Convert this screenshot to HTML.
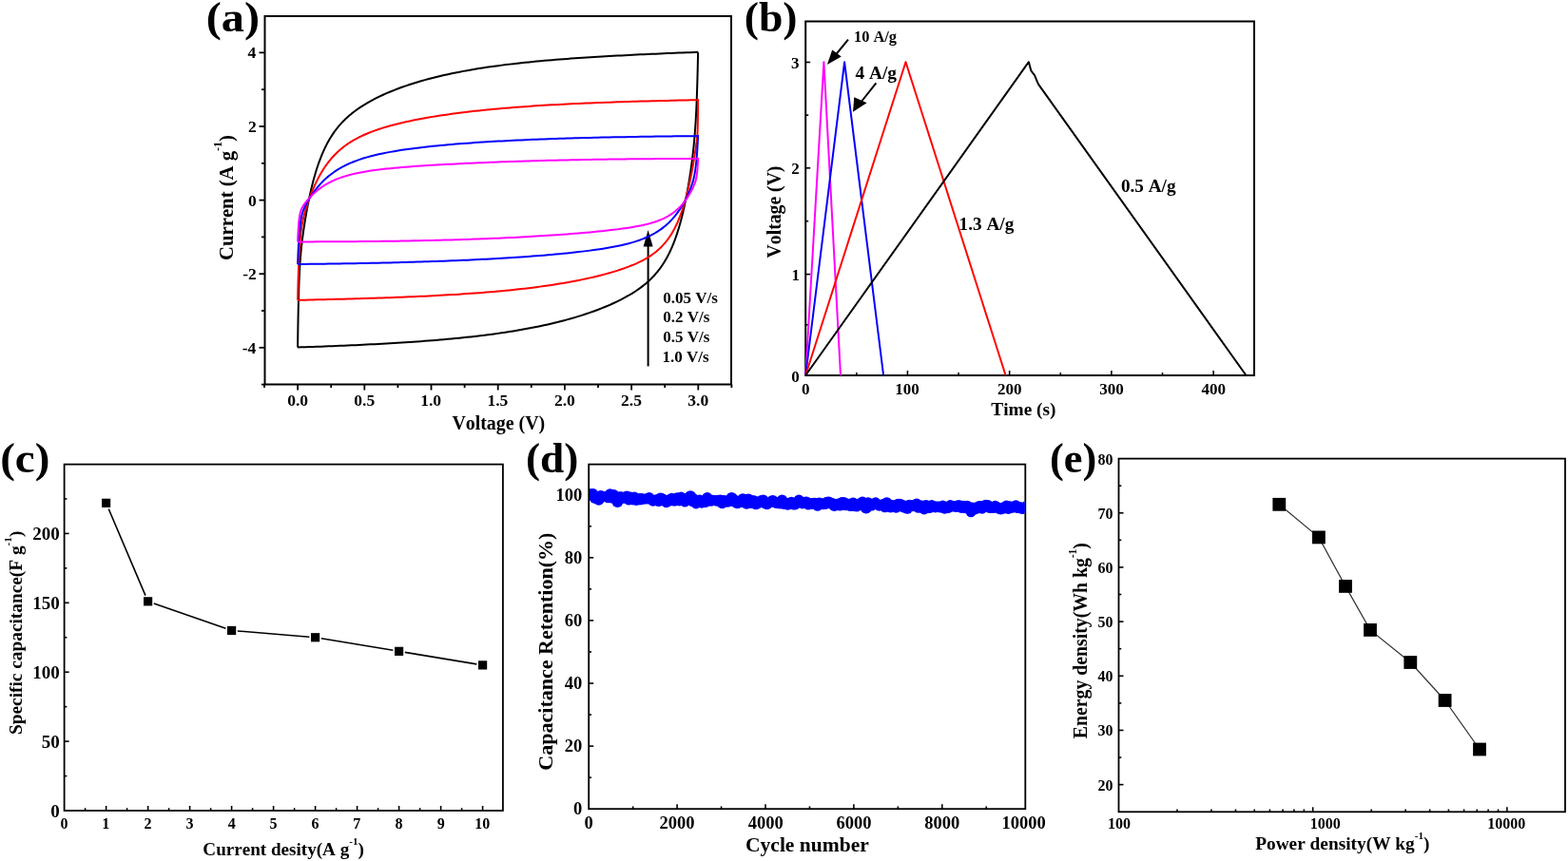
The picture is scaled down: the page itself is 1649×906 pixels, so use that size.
<!DOCTYPE html>
<html><head><meta charset="utf-8"><title>Figure</title>
<style>
html,body{margin:0;padding:0;background:#fff;}
body{width:1649px;height:906px;overflow:hidden;}
svg{display:block;}
text{font-family:'Liberation Serif', 'Times New Roman', serif;font-weight:bold;fill:#000;font-kerning:none;}
</style></head><body>
<svg width="1649" height="906" viewBox="0 0 1649 906">
<rect width="1649" height="906" fill="#fff"/>
<rect x="278.50" y="17.00" width="490.50" height="387.50" fill="none" stroke="#000" stroke-width="2"/>
<line x1="278.00" y1="404.50" x2="278.00" y2="408.00" stroke="#000" stroke-width="1.8"/>
<line x1="313.10" y1="404.50" x2="313.10" y2="410.50" stroke="#000" stroke-width="1.8"/>
<line x1="348.20" y1="404.50" x2="348.20" y2="408.00" stroke="#000" stroke-width="1.8"/>
<line x1="383.30" y1="404.50" x2="383.30" y2="410.50" stroke="#000" stroke-width="1.8"/>
<line x1="418.40" y1="404.50" x2="418.40" y2="408.00" stroke="#000" stroke-width="1.8"/>
<line x1="453.50" y1="404.50" x2="453.50" y2="410.50" stroke="#000" stroke-width="1.8"/>
<line x1="488.60" y1="404.50" x2="488.60" y2="408.00" stroke="#000" stroke-width="1.8"/>
<line x1="523.70" y1="404.50" x2="523.70" y2="410.50" stroke="#000" stroke-width="1.8"/>
<line x1="558.80" y1="404.50" x2="558.80" y2="408.00" stroke="#000" stroke-width="1.8"/>
<line x1="593.90" y1="404.50" x2="593.90" y2="410.50" stroke="#000" stroke-width="1.8"/>
<line x1="629.00" y1="404.50" x2="629.00" y2="408.00" stroke="#000" stroke-width="1.8"/>
<line x1="664.10" y1="404.50" x2="664.10" y2="410.50" stroke="#000" stroke-width="1.8"/>
<line x1="699.20" y1="404.50" x2="699.20" y2="408.00" stroke="#000" stroke-width="1.8"/>
<line x1="734.30" y1="404.50" x2="734.30" y2="410.50" stroke="#000" stroke-width="1.8"/>
<line x1="769.40" y1="404.50" x2="769.40" y2="408.00" stroke="#000" stroke-width="1.8"/>
<text x="302.16" y="427.30" font-size="17.5" >0.0</text>
<text x="372.35" y="427.30" font-size="17.5" >0.5</text>
<text x="442.20" y="427.30" font-size="17.5" >1.0</text>
<text x="512.38" y="427.30" font-size="17.5" >1.5</text>
<text x="582.93" y="427.30" font-size="17.5" >2.0</text>
<text x="653.12" y="427.30" font-size="17.5" >2.5</text>
<text x="723.37" y="427.30" font-size="17.5" >3.0</text>
<line x1="278.50" y1="404.60" x2="275.00" y2="404.60" stroke="#000" stroke-width="1.8"/>
<line x1="278.50" y1="365.80" x2="272.50" y2="365.80" stroke="#000" stroke-width="1.8"/>
<line x1="278.50" y1="327.00" x2="275.00" y2="327.00" stroke="#000" stroke-width="1.8"/>
<line x1="278.50" y1="288.20" x2="272.50" y2="288.20" stroke="#000" stroke-width="1.8"/>
<line x1="278.50" y1="249.40" x2="275.00" y2="249.40" stroke="#000" stroke-width="1.8"/>
<line x1="278.50" y1="210.60" x2="272.50" y2="210.60" stroke="#000" stroke-width="1.8"/>
<line x1="278.50" y1="171.80" x2="275.00" y2="171.80" stroke="#000" stroke-width="1.8"/>
<line x1="278.50" y1="133.00" x2="272.50" y2="133.00" stroke="#000" stroke-width="1.8"/>
<line x1="278.50" y1="94.20" x2="275.00" y2="94.20" stroke="#000" stroke-width="1.8"/>
<line x1="278.50" y1="55.40" x2="272.50" y2="55.40" stroke="#000" stroke-width="1.8"/>
<text x="260.57" y="61.40" font-size="17.5" >4</text>
<text x="261.00" y="139.00" font-size="17.5" >2</text>
<text x="260.92" y="216.60" font-size="17.5" >0</text>
<text x="255.17" y="294.20" font-size="17.5" >-2</text>
<text x="254.75" y="371.80" font-size="17.5" >-4</text>
<text transform="translate(475.60,452.00) scale(0.9959,1)" x="-0.22" y="0" font-size="20">Voltage (V)</text>
<text transform="translate(245.00,272.90) rotate(-90) scale(0.9956,1)" x="-1.02" y="0" font-size="20.8">Current (A g<tspan font-size="12.06" dy="-11.65">-1</tspan><tspan font-size="20.8" dy="11.65">)</tspan></text>
<text transform="translate(218.80,33.00) scale(1.0739,1)" x="-1.98" y="0" font-size="45">(a)</text>
<text x="697.25" y="318.60" font-size="17" >0.05 V/s</text>
<text x="697.25" y="339.40" font-size="17" >0.2 V/s</text>
<text x="697.25" y="360.40" font-size="17" >0.5 V/s</text>
<text x="696.54" y="380.60" font-size="17" >1.0 V/s</text>
<line x1="681.60" y1="385.40" x2="681.60" y2="256.00" stroke="#000" stroke-width="2"/>
<path d="M681.6,242 L676.6,259.5 L686.6,259.5 Z" fill="#000"/>
<path d="M313.10,365.50 L313.15,361.51 L313.20,357.69 L313.25,354.03 L313.30,350.52 L313.35,347.15 L313.40,343.93 L313.45,340.83 L313.50,337.86 L313.55,335.01 L313.60,332.28 L313.65,329.65 L313.70,327.13 L313.75,324.71 L313.80,322.38 L313.85,320.14 L313.90,317.99 L313.95,315.92 L314.00,313.92 L314.05,312.00 L314.10,310.15 L314.15,308.37 L314.20,306.66 L314.25,305.00 L314.30,303.40 L314.35,301.86 L314.40,300.38 L314.45,298.94 L314.50,297.55 L314.55,296.21 L314.60,294.91 L314.65,293.65 L314.70,292.44 L314.75,291.26 L314.80,290.12 L314.85,289.01 L314.90,287.94 L314.95,286.90 L315.00,285.89 L315.05,284.90 L315.10,283.95 L315.20,282.12 L315.40,278.72 L315.60,275.64 L315.80,272.83 L316.00,270.25 L316.21,267.86 L316.41,265.62 L316.61,263.52 L316.81,261.53 L317.01,259.64 L317.21,257.82 L317.41,256.08 L317.61,254.40 L317.81,252.77 L318.02,251.19 L318.22,249.65 L318.42,248.15 L318.62,246.68 L318.82,245.24 L319.02,243.82 L319.22,242.43 L319.42,241.06 L319.62,239.72 L319.83,238.39 L320.03,237.09 L320.23,235.80 L320.43,234.53 L320.63,233.27 L320.83,232.04 L321.03,230.81 L321.23,229.61 L321.43,228.41 L321.64,227.24 L321.84,226.07 L322.04,224.92 L322.24,223.78 L322.44,222.66 L322.64,221.55 L322.84,220.45 L323.04,219.37 L323.24,218.29 L323.45,217.23 L323.65,216.18 L323.85,215.14 L324.05,214.12 L324.25,213.10 L324.45,212.10 L324.65,211.11 L324.85,210.13 L325.06,209.16 L325.26,208.20 L325.46,207.25 L325.66,206.31 L325.86,205.38 L326.06,204.47 L326.26,203.56 L326.46,202.66 L326.66,201.77 L326.87,200.89 L327.07,200.02 L327.27,199.16 L327.47,198.31 L327.67,197.47 L327.87,196.64 L328.07,195.81 L328.27,195.00 L328.47,194.19 L328.68,193.40 L328.88,192.61 L329.08,191.83 L329.28,191.05 L329.48,190.29 L329.68,189.53 L329.88,188.78 L330.08,188.04 L330.28,187.31 L330.49,186.58 L330.69,185.87 L330.89,185.16 L331.09,184.45 L331.29,183.76 L331.49,183.07 L331.69,182.39 L331.89,181.71 L332.09,181.05 L332.30,180.39 L332.50,179.73 L332.70,179.08 L332.90,178.44 L333.10,177.81 L333.60,176.26 L334.27,174.24 L334.94,172.29 L335.61,170.41 L336.28,168.58 L336.95,166.81 L337.62,165.10 L338.29,163.44 L338.96,161.83 L339.63,160.27 L340.29,158.76 L340.96,157.30 L341.63,155.87 L342.30,154.49 L342.97,153.15 L343.64,151.85 L344.31,150.58 L344.98,149.35 L345.65,148.15 L346.32,146.99 L346.99,145.86 L347.66,144.75 L348.33,143.68 L349.00,142.63 L349.67,141.61 L350.34,140.62 L351.01,139.65 L351.68,138.70 L352.35,137.78 L353.02,136.88 L353.68,136.00 L354.35,135.14 L355.02,134.31 L355.69,133.49 L356.36,132.68 L357.03,131.90 L357.70,131.13 L358.37,130.38 L359.04,129.64 L359.71,128.92 L360.38,128.22 L361.05,127.53 L361.72,126.85 L362.39,126.18 L363.06,125.53 L363.73,124.89 L364.40,124.26 L365.07,123.64 L365.74,123.04 L366.41,122.44 L367.07,121.86 L367.74,121.28 L368.41,120.72 L369.08,120.16 L369.75,119.61 L370.42,119.08 L371.09,118.55 L371.76,118.02 L372.43,117.51 L373.10,117.00 L374.10,116.26 L378.14,113.42 L382.19,110.79 L386.23,108.35 L390.28,106.07 L394.32,103.93 L398.37,101.91 L402.41,100.01 L406.46,98.20 L410.50,96.48 L414.55,94.85 L418.59,93.29 L422.64,91.80 L426.68,90.38 L430.73,89.02 L434.77,87.71 L438.82,86.47 L442.86,85.27 L446.91,84.12 L450.95,83.02 L455.00,81.97 L459.04,80.96 L463.09,79.98 L467.13,79.05 L471.18,78.15 L475.22,77.29 L479.27,76.46 L483.31,75.66 L487.36,74.89 L491.40,74.16 L495.45,73.45 L499.49,72.76 L503.54,72.10 L507.58,71.47 L511.63,70.86 L515.67,70.27 L519.72,69.70 L523.76,69.15 L527.81,68.62 L531.85,68.11 L535.90,67.62 L539.94,67.15 L543.99,66.69 L548.03,66.24 L552.08,65.81 L556.12,65.40 L560.17,65.00 L564.21,64.61 L568.26,64.23 L572.30,63.87 L576.35,63.51 L580.39,63.17 L584.44,62.84 L588.48,62.51 L592.53,62.20 L596.57,61.89 L600.62,61.60 L604.66,61.31 L608.71,61.03 L612.75,60.76 L616.80,60.49 L620.84,60.23 L624.89,59.98 L628.93,59.73 L632.98,59.49 L637.02,59.26 L641.07,59.03 L645.11,58.81 L649.16,58.59 L653.20,58.38 L657.25,58.17 L661.29,57.96 L665.34,57.76 L669.38,57.56 L673.43,57.37 L677.47,57.18 L681.52,56.99 L685.56,56.81 L689.61,56.63 L693.65,56.46 L697.70,56.28 L701.74,56.11 L705.79,55.94 L709.83,55.78 L713.88,55.61 L717.92,55.45 L721.97,55.29 L726.01,55.14 L730.06,54.98 L734.10,54.83 L734.10,54.80 L734.05,57.33 L734.00,59.78 L733.95,62.17 L733.90,64.50 L733.85,66.76 L733.80,68.96 L733.75,71.11 L733.70,73.19 L733.65,75.23 L733.60,77.21 L733.55,79.14 L733.50,81.02 L733.45,82.85 L733.40,84.64 L733.35,86.38 L733.30,88.08 L733.25,89.74 L733.20,91.36 L733.15,92.93 L733.10,94.48 L733.05,95.98 L733.00,97.45 L732.95,98.88 L732.90,100.28 L732.85,101.65 L732.80,102.99 L732.75,104.30 L732.70,105.58 L732.65,106.83 L732.60,108.05 L732.55,109.25 L732.50,110.42 L732.45,111.57 L732.40,112.69 L732.35,113.79 L732.30,114.87 L732.25,115.93 L732.20,116.97 L732.15,117.98 L732.10,118.98 L732.00,120.91 L731.80,124.59 L731.60,128.02 L731.40,131.22 L731.20,134.22 L730.99,137.05 L730.79,139.72 L730.59,142.26 L730.39,144.67 L730.19,146.97 L729.99,149.18 L729.79,151.30 L729.59,153.34 L729.39,155.31 L729.18,157.22 L728.98,159.07 L728.78,160.87 L728.58,162.62 L728.38,164.32 L728.18,165.99 L727.98,167.62 L727.78,169.21 L727.58,170.77 L727.37,172.30 L727.17,173.81 L726.97,175.28 L726.77,176.74 L726.57,178.16 L726.37,179.57 L726.17,180.95 L725.97,182.31 L725.77,183.66 L725.56,184.98 L725.36,186.29 L725.16,187.57 L724.96,188.84 L724.76,190.10 L724.56,191.34 L724.36,192.56 L724.16,193.76 L723.96,194.95 L723.75,196.13 L723.55,197.29 L723.35,198.44 L723.15,199.57 L722.95,200.69 L722.75,201.80 L722.55,202.89 L722.35,203.97 L722.14,205.04 L721.94,206.10 L721.74,207.14 L721.54,208.17 L721.34,209.19 L721.14,210.20 L720.94,211.19 L720.74,212.18 L720.54,213.15 L720.33,214.11 L720.13,215.06 L719.93,216.00 L719.73,216.93 L719.53,217.85 L719.33,218.76 L719.13,219.66 L718.93,220.55 L718.73,221.43 L718.52,222.30 L718.32,223.16 L718.12,224.01 L717.92,224.85 L717.72,225.68 L717.52,226.50 L717.32,227.31 L717.12,228.12 L716.92,228.91 L716.71,229.70 L716.51,230.48 L716.31,231.25 L716.11,232.01 L715.91,232.76 L715.71,233.51 L715.51,234.24 L715.31,234.97 L715.11,235.69 L714.90,236.41 L714.70,237.11 L714.50,237.81 L714.30,238.50 L714.10,239.19 L713.60,240.86 L712.93,243.02 L712.26,245.12 L711.59,247.14 L710.92,249.09 L710.25,250.98 L709.58,252.80 L708.91,254.57 L708.24,256.28 L707.57,257.93 L706.91,259.53 L706.24,261.08 L705.57,262.58 L704.90,264.04 L704.23,265.45 L703.56,266.82 L702.89,268.15 L702.22,269.43 L701.55,270.68 L700.88,271.90 L700.21,273.08 L699.54,274.22 L698.87,275.34 L698.20,276.42 L697.53,277.48 L696.86,278.50 L696.19,279.50 L695.52,280.47 L694.85,281.42 L694.18,282.35 L693.52,283.25 L692.85,284.13 L692.18,284.98 L691.51,285.82 L690.84,286.64 L690.17,287.44 L689.50,288.22 L688.83,288.98 L688.16,289.72 L687.49,290.45 L686.82,291.17 L686.15,291.87 L685.48,292.55 L684.81,293.22 L684.14,293.88 L683.47,294.52 L682.80,295.15 L682.13,295.77 L681.46,296.38 L680.79,296.98 L680.13,297.56 L679.46,298.14 L678.79,298.70 L678.12,299.26 L677.45,299.80 L676.78,300.34 L676.11,300.87 L675.44,301.39 L674.77,301.90 L674.10,302.40 L673.10,303.14 L669.06,305.97 L665.01,308.57 L660.97,310.99 L656.92,313.24 L652.88,315.36 L648.83,317.36 L644.79,319.26 L640.74,321.06 L636.70,322.77 L632.65,324.41 L628.61,325.97 L624.56,327.47 L620.52,328.91 L616.47,330.28 L612.43,331.61 L608.38,332.87 L604.34,334.09 L600.29,335.27 L596.25,336.40 L592.20,337.48 L588.16,338.53 L584.11,339.53 L580.07,340.50 L576.02,341.43 L571.98,342.33 L567.93,343.19 L563.89,344.03 L559.84,344.83 L555.80,345.60 L551.75,346.35 L547.71,347.07 L543.66,347.76 L539.62,348.43 L535.57,349.08 L531.53,349.70 L527.48,350.30 L523.44,350.88 L519.39,351.44 L515.35,351.98 L511.30,352.50 L507.26,353.01 L503.21,353.49 L499.17,353.97 L495.12,354.42 L491.08,354.86 L487.03,355.29 L482.99,355.70 L478.94,356.10 L474.90,356.48 L470.85,356.85 L466.81,357.21 L462.76,357.56 L458.72,357.90 L454.67,358.23 L450.63,358.55 L446.58,358.86 L442.54,359.16 L438.49,359.45 L434.45,359.73 L430.40,360.00 L426.36,360.27 L422.31,360.53 L418.27,360.78 L414.22,361.02 L410.18,361.26 L406.13,361.49 L402.09,361.71 L398.04,361.93 L394.00,362.14 L389.95,362.35 L385.91,362.55 L381.86,362.75 L377.82,362.94 L373.77,363.13 L369.73,363.31 L365.68,363.49 L361.64,363.67 L357.59,363.84 L353.55,364.00 L349.50,364.17 L345.46,364.33 L341.41,364.48 L337.37,364.64 L333.32,364.79 L329.28,364.93 L325.23,365.08 L321.19,365.22 L317.14,365.36 L313.10,365.50" fill="none" stroke="#000" stroke-width="2.0" stroke-linejoin="miter" stroke-miterlimit="10"/>
<path d="M313.10,315.80 L313.15,313.39 L313.20,311.05 L313.25,308.79 L313.30,306.60 L313.35,304.48 L313.40,302.42 L313.45,300.43 L313.50,298.50 L313.55,296.63 L313.60,294.81 L313.65,293.06 L313.70,291.35 L313.75,289.70 L313.80,288.09 L313.85,286.54 L313.90,285.03 L313.95,283.57 L314.00,282.15 L314.05,280.77 L314.10,279.43 L314.15,278.13 L314.20,276.87 L314.25,275.65 L314.30,274.46 L314.35,273.30 L314.40,272.18 L314.45,271.09 L314.50,270.03 L314.55,269.00 L314.60,268.00 L314.65,267.02 L314.70,266.08 L314.75,265.16 L314.80,264.26 L314.85,263.39 L314.90,262.54 L314.95,261.71 L315.00,260.91 L315.05,260.12 L315.10,259.36 L315.20,257.89 L315.40,255.15 L315.60,252.67 L315.80,250.42 L316.00,248.36 L316.21,246.47 L316.41,244.73 L316.61,243.12 L316.81,241.63 L317.01,240.23 L317.21,238.93 L317.41,237.70 L317.61,236.54 L317.81,235.43 L318.02,234.38 L318.22,233.38 L318.42,232.41 L318.62,231.48 L318.82,230.59 L319.02,229.72 L319.22,228.88 L319.42,228.06 L319.62,227.26 L319.83,226.48 L320.03,225.72 L320.23,224.97 L320.43,224.24 L320.63,223.52 L320.83,222.81 L321.03,222.12 L321.23,221.43 L321.43,220.75 L321.64,220.08 L321.84,219.42 L322.04,218.77 L322.24,218.13 L322.44,217.49 L322.64,216.86 L322.84,216.23 L323.04,215.62 L323.24,215.01 L323.45,214.40 L323.65,213.80 L323.85,213.21 L324.05,212.62 L324.25,212.03 L324.45,211.46 L324.65,210.88 L324.85,210.31 L325.06,209.75 L325.26,209.19 L325.46,208.64 L325.66,208.09 L325.86,207.54 L326.06,207.00 L326.26,206.47 L326.46,205.94 L326.66,205.41 L326.87,204.89 L327.07,204.37 L327.27,203.86 L327.47,203.35 L327.67,202.84 L327.87,202.34 L328.07,201.84 L328.27,201.35 L328.47,200.86 L328.68,200.37 L328.88,199.89 L329.08,199.41 L329.28,198.93 L329.48,198.46 L329.68,198.00 L329.88,197.53 L330.08,197.07 L330.28,196.62 L330.49,196.16 L330.69,195.71 L330.89,195.27 L331.09,194.83 L331.29,194.39 L331.49,193.95 L331.69,193.52 L331.89,193.09 L332.09,192.67 L332.30,192.25 L332.50,191.83 L332.70,191.41 L332.90,191.00 L333.10,190.59 L333.60,189.59 L334.27,188.27 L334.94,186.99 L335.61,185.74 L336.28,184.52 L336.95,183.34 L337.62,182.18 L338.29,181.05 L338.96,179.95 L339.63,178.87 L340.29,177.82 L340.96,176.80 L341.63,175.80 L342.30,174.82 L342.97,173.87 L343.64,172.94 L344.31,172.03 L344.98,171.14 L345.65,170.27 L346.32,169.42 L346.99,168.60 L347.66,167.79 L348.33,167.00 L349.00,166.22 L349.67,165.47 L350.34,164.73 L351.01,164.00 L351.68,163.30 L352.35,162.61 L353.02,161.93 L353.68,161.27 L354.35,160.62 L355.02,159.98 L355.69,159.36 L356.36,158.75 L357.03,158.16 L357.70,157.57 L358.37,157.00 L359.04,156.44 L359.71,155.89 L360.38,155.35 L361.05,154.82 L361.72,154.30 L362.39,153.80 L363.06,153.30 L363.73,152.81 L364.40,152.33 L365.07,151.86 L365.74,151.40 L366.41,150.95 L367.07,150.50 L367.74,150.06 L368.41,149.63 L369.08,149.21 L369.75,148.80 L370.42,148.39 L371.09,147.99 L371.76,147.60 L372.43,147.21 L373.10,146.83 L374.10,146.28 L378.14,144.16 L382.19,142.24 L386.23,140.47 L390.28,138.85 L394.32,137.35 L398.37,135.96 L402.41,134.66 L406.46,133.44 L410.50,132.29 L414.55,131.21 L418.59,130.19 L422.64,129.22 L426.68,128.29 L430.73,127.41 L434.77,126.57 L438.82,125.77 L442.86,125.00 L446.91,124.26 L450.95,123.56 L455.00,122.88 L459.04,122.22 L463.09,121.60 L467.13,120.99 L471.18,120.41 L475.22,119.84 L479.27,119.30 L483.31,118.78 L487.36,118.27 L491.40,117.79 L495.45,117.32 L499.49,116.86 L503.54,116.42 L507.58,116.00 L511.63,115.59 L515.67,115.20 L519.72,114.81 L523.76,114.44 L527.81,114.09 L531.85,113.74 L535.90,113.41 L539.94,113.08 L543.99,112.77 L548.03,112.47 L552.08,112.18 L556.12,111.89 L560.17,111.62 L564.21,111.35 L568.26,111.10 L572.30,110.85 L576.35,110.61 L580.39,110.37 L584.44,110.15 L588.48,109.93 L592.53,109.72 L596.57,109.51 L600.62,109.31 L604.66,109.12 L608.71,108.93 L612.75,108.75 L616.80,108.58 L620.84,108.41 L624.89,108.24 L628.93,108.08 L632.98,107.93 L637.02,107.78 L641.07,107.63 L645.11,107.49 L649.16,107.35 L653.20,107.22 L657.25,107.09 L661.29,106.96 L665.34,106.84 L669.38,106.72 L673.43,106.61 L677.47,106.49 L681.52,106.38 L685.56,106.28 L689.61,106.17 L693.65,106.07 L697.70,105.98 L701.74,105.88 L705.79,105.79 L709.83,105.70 L713.88,105.61 L717.92,105.53 L721.97,105.44 L726.01,105.36 L730.06,105.28 L734.10,105.20 L734.10,105.20 L734.05,111.87 L734.00,117.35 L733.95,121.84 L733.90,125.55 L733.85,128.62 L733.80,131.18 L733.75,133.32 L733.70,135.12 L733.65,136.65 L733.60,137.96 L733.55,139.09 L733.50,140.08 L733.45,140.95 L733.40,141.73 L733.35,142.43 L733.30,143.06 L733.25,143.65 L733.20,144.19 L733.15,144.71 L733.10,145.19 L733.05,145.65 L733.00,146.10 L732.95,146.52 L732.90,146.94 L732.85,147.35 L732.80,147.74 L732.75,148.14 L732.70,148.52 L732.65,148.90 L732.60,149.28 L732.55,149.65 L732.50,150.02 L732.45,150.38 L732.40,150.75 L732.35,151.11 L732.30,151.47 L732.25,151.83 L732.20,152.18 L732.15,152.54 L732.10,152.89 L732.00,153.59 L731.80,154.99 L731.60,156.37 L731.40,157.73 L731.20,159.07 L730.99,160.40 L730.79,161.71 L730.59,163.01 L730.39,164.28 L730.19,165.55 L729.99,166.80 L729.79,168.03 L729.59,169.25 L729.39,170.45 L729.18,171.64 L728.98,172.81 L728.78,173.97 L728.58,175.12 L728.38,176.25 L728.18,177.36 L727.98,178.47 L727.78,179.56 L727.58,180.64 L727.37,181.70 L727.17,182.75 L726.97,183.79 L726.77,184.82 L726.57,185.83 L726.37,186.84 L726.17,187.83 L725.97,188.81 L725.77,189.77 L725.56,190.73 L725.36,191.67 L725.16,192.60 L724.96,193.53 L724.76,194.44 L724.56,195.34 L724.36,196.22 L724.16,197.10 L723.96,197.97 L723.75,198.83 L723.55,199.68 L723.35,200.52 L723.15,201.34 L722.95,202.16 L722.75,202.97 L722.55,203.77 L722.35,204.56 L722.14,205.34 L721.94,206.11 L721.74,206.88 L721.54,207.63 L721.34,208.37 L721.14,209.11 L720.94,209.84 L720.74,210.56 L720.54,211.27 L720.33,211.97 L720.13,212.67 L719.93,213.35 L719.73,214.03 L719.53,214.71 L719.33,215.37 L719.13,216.03 L718.93,216.67 L718.73,217.32 L718.52,217.95 L718.32,218.58 L718.12,219.20 L717.92,219.81 L717.72,220.42 L717.52,221.01 L717.32,221.61 L717.12,222.19 L716.92,222.77 L716.71,223.34 L716.51,223.91 L716.31,224.47 L716.11,225.03 L715.91,225.57 L715.71,226.12 L715.51,226.65 L715.31,227.18 L715.11,227.71 L714.90,228.22 L714.70,228.74 L714.50,229.24 L714.30,229.74 L714.10,230.24 L713.60,231.45 L712.93,233.02 L712.26,234.54 L711.59,236.00 L710.92,237.41 L710.25,238.77 L709.58,240.09 L708.91,241.36 L708.24,242.59 L707.57,243.78 L706.91,244.93 L706.24,246.04 L705.57,247.11 L704.90,248.16 L704.23,249.16 L703.56,250.14 L702.89,251.09 L702.22,252.00 L701.55,252.89 L700.88,253.75 L700.21,254.59 L699.54,255.40 L698.87,256.19 L698.20,256.96 L697.53,257.70 L696.86,258.42 L696.19,259.13 L695.52,259.81 L694.85,260.47 L694.18,261.12 L693.52,261.75 L692.85,262.37 L692.18,262.96 L691.51,263.55 L690.84,264.12 L690.17,264.67 L689.50,265.21 L688.83,265.74 L688.16,266.26 L687.49,266.76 L686.82,267.25 L686.15,267.74 L685.48,268.21 L684.81,268.67 L684.14,269.12 L683.47,269.56 L682.80,269.99 L682.13,270.42 L681.46,270.83 L680.79,271.24 L680.13,271.64 L679.46,272.03 L678.79,272.42 L678.12,272.79 L677.45,273.16 L676.78,273.53 L676.11,273.88 L675.44,274.24 L674.77,274.58 L674.10,274.92 L673.10,275.42 L669.06,277.32 L665.01,279.05 L660.97,280.66 L656.92,282.15 L652.88,283.55 L648.83,284.86 L644.79,286.10 L640.74,287.28 L636.70,288.40 L632.65,289.47 L628.61,290.49 L624.56,291.46 L620.52,292.39 L616.47,293.28 L612.43,294.14 L608.38,294.96 L604.34,295.75 L600.29,296.51 L596.25,297.24 L592.20,297.94 L588.16,298.61 L584.11,299.26 L580.07,299.89 L576.02,300.49 L571.98,301.06 L567.93,301.62 L563.89,302.16 L559.84,302.67 L555.80,303.17 L551.75,303.65 L547.71,304.11 L543.66,304.56 L539.62,304.99 L535.57,305.40 L531.53,305.80 L527.48,306.18 L523.44,306.55 L519.39,306.91 L515.35,307.26 L511.30,307.59 L507.26,307.91 L503.21,308.22 L499.17,308.52 L495.12,308.81 L491.08,309.09 L487.03,309.36 L482.99,309.63 L478.94,309.88 L474.90,310.12 L470.85,310.36 L466.81,310.59 L462.76,310.81 L458.72,311.03 L454.67,311.23 L450.63,311.44 L446.58,311.63 L442.54,311.82 L438.49,312.00 L434.45,312.18 L430.40,312.36 L426.36,312.52 L422.31,312.69 L418.27,312.84 L414.22,313.00 L410.18,313.15 L406.13,313.29 L402.09,313.43 L398.04,313.57 L394.00,313.70 L389.95,313.83 L385.91,313.96 L381.86,314.08 L377.82,314.20 L373.77,314.32 L369.73,314.44 L365.68,314.55 L361.64,314.66 L357.59,314.76 L353.55,314.87 L349.50,314.97 L345.46,315.07 L341.41,315.17 L337.37,315.26 L333.32,315.36 L329.28,315.45 L325.23,315.54 L321.19,315.63 L317.14,315.71 L313.10,315.80" fill="none" stroke="#f00" stroke-width="2.0" stroke-linejoin="miter" stroke-miterlimit="10"/>
<path d="M313.10,278.00 L313.15,276.50 L313.20,275.04 L313.25,273.62 L313.30,272.25 L313.35,270.91 L313.40,269.61 L313.45,268.35 L313.50,267.12 L313.55,265.93 L313.60,264.77 L313.65,263.64 L313.70,262.54 L313.75,261.48 L313.80,260.44 L313.85,259.44 L313.90,258.46 L313.95,257.50 L314.00,256.58 L314.05,255.67 L314.10,254.80 L314.15,253.94 L314.20,253.11 L314.25,252.30 L314.30,251.52 L314.35,250.75 L314.40,250.01 L314.45,249.28 L314.50,248.57 L314.55,247.89 L314.60,247.22 L314.65,246.56 L314.70,245.93 L314.75,245.31 L314.80,244.70 L314.85,244.11 L314.90,243.54 L314.95,242.98 L315.00,242.43 L315.05,241.90 L315.10,241.38 L315.20,240.38 L315.40,238.51 L315.60,236.81 L315.80,235.26 L316.00,233.85 L316.21,232.55 L316.41,231.36 L316.61,230.26 L316.81,229.24 L317.01,228.30 L317.21,227.42 L317.41,226.59 L317.61,225.82 L317.81,225.08 L318.02,224.39 L318.22,223.74 L318.42,223.12 L318.62,222.52 L318.82,221.95 L319.02,221.40 L319.22,220.87 L319.42,220.36 L319.62,219.87 L319.83,219.39 L320.03,218.92 L320.23,218.47 L320.43,218.02 L320.63,217.59 L320.83,217.17 L321.03,216.75 L321.23,216.34 L321.43,215.94 L321.64,215.54 L321.84,215.15 L322.04,214.77 L322.24,214.39 L322.44,214.01 L322.64,213.64 L322.84,213.27 L323.04,212.91 L323.24,212.55 L323.45,212.20 L323.65,211.85 L323.85,211.50 L324.05,211.16 L324.25,210.81 L324.45,210.47 L324.65,210.14 L324.85,209.81 L325.06,209.48 L325.26,209.15 L325.46,208.82 L325.66,208.50 L325.86,208.18 L326.06,207.86 L326.26,207.55 L326.46,207.23 L326.66,206.92 L326.87,206.61 L327.07,206.31 L327.27,206.00 L327.47,205.70 L327.67,205.40 L327.87,205.11 L328.07,204.81 L328.27,204.52 L328.47,204.22 L328.68,203.94 L328.88,203.65 L329.08,203.36 L329.28,203.08 L329.48,202.80 L329.68,202.52 L329.88,202.24 L330.08,201.96 L330.28,201.69 L330.49,201.42 L330.69,201.15 L330.89,200.88 L331.09,200.61 L331.29,200.35 L331.49,200.09 L331.69,199.82 L331.89,199.57 L332.09,199.31 L332.30,199.05 L332.50,198.80 L332.70,198.54 L332.90,198.29 L333.10,198.04 L333.60,197.43 L334.27,196.63 L334.94,195.84 L335.61,195.07 L336.28,194.32 L336.95,193.58 L337.62,192.86 L338.29,192.16 L338.96,191.47 L339.63,190.79 L340.29,190.13 L340.96,189.48 L341.63,188.85 L342.30,188.23 L342.97,187.62 L343.64,187.03 L344.31,186.45 L344.98,185.88 L345.65,185.32 L346.32,184.77 L346.99,184.23 L347.66,183.71 L348.33,183.19 L349.00,182.69 L349.67,182.20 L350.34,181.71 L351.01,181.24 L351.68,180.77 L352.35,180.32 L353.02,179.87 L353.68,179.43 L354.35,179.00 L355.02,178.58 L355.69,178.17 L356.36,177.76 L357.03,177.36 L357.70,176.97 L358.37,176.59 L359.04,176.21 L359.71,175.85 L360.38,175.48 L361.05,175.13 L361.72,174.78 L362.39,174.44 L363.06,174.10 L363.73,173.77 L364.40,173.45 L365.07,173.13 L365.74,172.81 L366.41,172.51 L367.07,172.20 L367.74,171.91 L368.41,171.62 L369.08,171.33 L369.75,171.05 L370.42,170.77 L371.09,170.50 L371.76,170.23 L372.43,169.97 L373.10,169.71 L374.10,169.33 L378.14,167.88 L382.19,166.57 L386.23,165.37 L390.28,164.26 L394.32,163.25 L398.37,162.31 L402.41,161.44 L406.46,160.63 L410.50,159.87 L414.55,159.16 L418.59,158.49 L422.64,157.86 L426.68,157.27 L430.73,156.70 L434.77,156.17 L438.82,155.65 L442.86,155.17 L446.91,154.70 L450.95,154.26 L455.00,153.83 L459.04,153.43 L463.09,153.03 L467.13,152.66 L471.18,152.30 L475.22,151.95 L479.27,151.61 L483.31,151.29 L487.36,150.98 L491.40,150.68 L495.45,150.39 L499.49,150.11 L503.54,149.83 L507.58,149.57 L511.63,149.32 L515.67,149.08 L519.72,148.84 L523.76,148.61 L527.81,148.39 L531.85,148.18 L535.90,147.97 L539.94,147.77 L543.99,147.58 L548.03,147.39 L552.08,147.21 L556.12,147.04 L560.17,146.87 L564.21,146.71 L568.26,146.55 L572.30,146.40 L576.35,146.25 L580.39,146.10 L584.44,145.97 L588.48,145.83 L592.53,145.70 L596.57,145.58 L600.62,145.46 L604.66,145.34 L608.71,145.23 L612.75,145.12 L616.80,145.01 L620.84,144.91 L624.89,144.81 L628.93,144.71 L632.98,144.62 L637.02,144.53 L641.07,144.45 L645.11,144.36 L649.16,144.28 L653.20,144.20 L657.25,144.13 L661.29,144.06 L665.34,143.98 L669.38,143.92 L673.43,143.85 L677.47,143.79 L681.52,143.73 L685.56,143.67 L689.61,143.61 L693.65,143.56 L697.70,143.50 L701.74,143.45 L705.79,143.40 L709.83,143.35 L713.88,143.31 L717.92,143.26 L721.97,143.22 L726.01,143.18 L730.06,143.14 L734.10,143.10 L734.10,143.10 L734.05,144.17 L734.00,145.21 L733.95,146.23 L733.90,147.23 L733.85,148.20 L733.80,149.15 L733.75,150.08 L733.70,150.99 L733.65,151.88 L733.60,152.75 L733.55,153.60 L733.50,154.43 L733.45,155.24 L733.40,156.04 L733.35,156.81 L733.30,157.57 L733.25,158.32 L733.20,159.05 L733.15,159.76 L733.10,160.46 L733.05,161.14 L733.00,161.81 L732.95,162.46 L732.90,163.10 L732.85,163.73 L732.80,164.35 L732.75,164.95 L732.70,165.54 L732.65,166.12 L732.60,166.68 L732.55,167.24 L732.50,167.78 L732.45,168.32 L732.40,168.84 L732.35,169.35 L732.30,169.85 L732.25,170.35 L732.20,170.83 L732.15,171.30 L732.10,171.77 L732.00,172.67 L731.80,174.40 L731.60,176.00 L731.40,177.49 L731.20,178.88 L730.99,180.19 L730.79,181.41 L730.59,182.57 L730.39,183.65 L730.19,184.68 L729.99,185.66 L729.79,186.59 L729.59,187.48 L729.39,188.32 L729.18,189.13 L728.98,189.91 L728.78,190.66 L728.58,191.38 L728.38,192.07 L728.18,192.75 L727.98,193.40 L727.78,194.04 L727.58,194.65 L727.37,195.25 L727.17,195.84 L726.97,196.41 L726.77,196.97 L726.57,197.52 L726.37,198.06 L726.17,198.59 L725.97,199.11 L725.77,199.62 L725.56,200.12 L725.36,200.61 L725.16,201.10 L724.96,201.58 L724.76,202.05 L724.56,202.52 L724.36,202.98 L724.16,203.43 L723.96,203.88 L723.75,204.33 L723.55,204.77 L723.35,205.20 L723.15,205.63 L722.95,206.06 L722.75,206.48 L722.55,206.90 L722.35,207.31 L722.14,207.72 L721.94,208.13 L721.74,208.53 L721.54,208.93 L721.34,209.32 L721.14,209.71 L720.94,210.10 L720.74,210.48 L720.54,210.86 L720.33,211.24 L720.13,211.61 L719.93,211.98 L719.73,212.35 L719.53,212.72 L719.33,213.08 L719.13,213.44 L718.93,213.79 L718.73,214.14 L718.52,214.49 L718.32,214.84 L718.12,215.18 L717.92,215.53 L717.72,215.86 L717.52,216.20 L717.32,216.53 L717.12,216.86 L716.92,217.19 L716.71,217.52 L716.51,217.84 L716.31,218.16 L716.11,218.48 L715.91,218.79 L715.71,219.10 L715.51,219.41 L715.31,219.72 L715.11,220.02 L714.90,220.33 L714.70,220.63 L714.50,220.93 L714.30,221.22 L714.10,221.51 L713.60,222.23 L712.93,223.17 L712.26,224.09 L711.59,224.98 L710.92,225.85 L710.25,226.70 L709.58,227.53 L708.91,228.34 L708.24,229.12 L707.57,229.89 L706.91,230.64 L706.24,231.36 L705.57,232.07 L704.90,232.77 L704.23,233.44 L703.56,234.10 L702.89,234.75 L702.22,235.37 L701.55,235.99 L700.88,236.59 L700.21,237.17 L699.54,237.74 L698.87,238.29 L698.20,238.84 L697.53,239.37 L696.86,239.89 L696.19,240.39 L695.52,240.89 L694.85,241.37 L694.18,241.84 L693.52,242.30 L692.85,242.75 L692.18,243.19 L691.51,243.62 L690.84,244.04 L690.17,244.45 L689.50,244.86 L688.83,245.25 L688.16,245.64 L687.49,246.01 L686.82,246.38 L686.15,246.74 L685.48,247.09 L684.81,247.44 L684.14,247.78 L683.47,248.11 L682.80,248.43 L682.13,248.75 L681.46,249.06 L680.79,249.37 L680.13,249.67 L679.46,249.96 L678.79,250.25 L678.12,250.53 L677.45,250.80 L676.78,251.07 L676.11,251.34 L675.44,251.60 L674.77,251.85 L674.10,252.10 L673.10,252.47 L669.06,253.85 L665.01,255.09 L660.97,256.21 L656.92,257.23 L652.88,258.17 L648.83,259.02 L644.79,259.82 L640.74,260.56 L636.70,261.24 L632.65,261.89 L628.61,262.50 L624.56,263.07 L620.52,263.62 L616.47,264.13 L612.43,264.63 L608.38,265.10 L604.34,265.55 L600.29,265.99 L596.25,266.41 L592.20,266.81 L588.16,267.20 L584.11,267.57 L580.07,267.94 L576.02,268.29 L571.98,268.63 L567.93,268.95 L563.89,269.27 L559.84,269.58 L555.80,269.88 L551.75,270.17 L547.71,270.45 L543.66,270.72 L539.62,270.99 L535.57,271.25 L531.53,271.50 L527.48,271.74 L523.44,271.98 L519.39,272.20 L515.35,272.43 L511.30,272.64 L507.26,272.85 L503.21,273.06 L499.17,273.25 L495.12,273.45 L491.08,273.63 L487.03,273.81 L482.99,273.99 L478.94,274.16 L474.90,274.32 L470.85,274.48 L466.81,274.64 L462.76,274.79 L458.72,274.94 L454.67,275.08 L450.63,275.22 L446.58,275.35 L442.54,275.48 L438.49,275.61 L434.45,275.73 L430.40,275.85 L426.36,275.96 L422.31,276.07 L418.27,276.18 L414.22,276.28 L410.18,276.38 L406.13,276.48 L402.09,276.57 L398.04,276.67 L394.00,276.75 L389.95,276.84 L385.91,276.92 L381.86,277.00 L377.82,277.08 L373.77,277.15 L369.73,277.22 L365.68,277.29 L361.64,277.36 L357.59,277.43 L353.55,277.49 L349.50,277.55 L345.46,277.61 L341.41,277.66 L337.37,277.72 L333.32,277.77 L329.28,277.82 L325.23,277.86 L321.19,277.91 L317.14,277.95 L313.10,278.00" fill="none" stroke="#00f" stroke-width="2.0" stroke-linejoin="miter" stroke-miterlimit="10"/>
<path d="M313.10,254.40 L313.15,253.09 L313.20,251.84 L313.25,250.63 L313.30,249.47 L313.35,248.36 L313.40,247.29 L313.45,246.26 L313.50,245.27 L313.55,244.32 L313.60,243.40 L313.65,242.53 L313.70,241.68 L313.75,240.87 L313.80,240.09 L313.85,239.34 L313.90,238.61 L313.95,237.91 L314.00,237.24 L314.05,236.60 L314.10,235.98 L314.15,235.38 L314.20,234.80 L314.25,234.24 L314.30,233.71 L314.35,233.19 L314.40,232.69 L314.45,232.21 L314.50,231.75 L314.55,231.30 L314.60,230.87 L314.65,230.45 L314.70,230.05 L314.75,229.66 L314.80,229.29 L314.85,228.92 L314.90,228.57 L314.95,228.23 L315.00,227.90 L315.05,227.58 L315.10,227.28 L315.20,226.69 L315.40,225.61 L315.60,224.66 L315.80,223.81 L316.00,223.05 L316.21,222.36 L316.41,221.73 L316.61,221.16 L316.81,220.63 L317.01,220.13 L317.21,219.67 L317.41,219.24 L317.61,218.83 L317.81,218.44 L318.02,218.07 L318.22,217.71 L318.42,217.37 L318.62,217.03 L318.82,216.71 L319.02,216.40 L319.22,216.09 L319.42,215.79 L319.62,215.49 L319.83,215.20 L320.03,214.91 L320.23,214.63 L320.43,214.35 L320.63,214.08 L320.83,213.81 L321.03,213.54 L321.23,213.27 L321.43,213.01 L321.64,212.75 L321.84,212.50 L322.04,212.24 L322.24,211.99 L322.44,211.74 L322.64,211.49 L322.84,211.24 L323.04,211.00 L323.24,210.76 L323.45,210.52 L323.65,210.28 L323.85,210.04 L324.05,209.81 L324.25,209.57 L324.45,209.34 L324.65,209.11 L324.85,208.89 L325.06,208.66 L325.26,208.44 L325.46,208.21 L325.66,207.99 L325.86,207.77 L326.06,207.56 L326.26,207.34 L326.46,207.13 L326.66,206.91 L326.87,206.70 L327.07,206.49 L327.27,206.29 L327.47,206.08 L327.67,205.87 L327.87,205.67 L328.07,205.47 L328.27,205.27 L328.47,205.07 L328.68,204.87 L328.88,204.68 L329.08,204.48 L329.28,204.29 L329.48,204.10 L329.68,203.91 L329.88,203.72 L330.08,203.53 L330.28,203.34 L330.49,203.16 L330.69,202.98 L330.89,202.79 L331.09,202.61 L331.29,202.43 L331.49,202.26 L331.69,202.08 L331.89,201.90 L332.09,201.73 L332.30,201.56 L332.50,201.38 L332.70,201.21 L332.90,201.04 L333.10,200.88 L333.60,200.46 L334.27,199.92 L334.94,199.40 L335.61,198.88 L336.28,198.38 L336.95,197.89 L337.62,197.41 L338.29,196.94 L338.96,196.48 L339.63,196.03 L340.29,195.60 L340.96,195.17 L341.63,194.76 L342.30,194.35 L342.97,193.95 L343.64,193.56 L344.31,193.18 L344.98,192.81 L345.65,192.45 L346.32,192.10 L346.99,191.75 L347.66,191.41 L348.33,191.08 L349.00,190.76 L349.67,190.44 L350.34,190.13 L351.01,189.83 L351.68,189.53 L352.35,189.25 L353.02,188.96 L353.68,188.69 L354.35,188.41 L355.02,188.15 L355.69,187.89 L356.36,187.64 L357.03,187.39 L357.70,187.15 L358.37,186.91 L359.04,186.67 L359.71,186.45 L360.38,186.22 L361.05,186.00 L361.72,185.79 L362.39,185.58 L363.06,185.37 L363.73,185.17 L364.40,184.97 L365.07,184.78 L365.74,184.59 L366.41,184.41 L367.07,184.22 L367.74,184.04 L368.41,183.87 L369.08,183.70 L369.75,183.53 L370.42,183.36 L371.09,183.20 L371.76,183.04 L372.43,182.88 L373.10,182.73 L374.10,182.51 L378.14,181.66 L382.19,180.90 L386.23,180.21 L390.28,179.58 L394.32,179.01 L398.37,178.49 L402.41,178.00 L406.46,177.55 L410.50,177.14 L414.55,176.74 L418.59,176.38 L422.64,176.03 L426.68,175.70 L430.73,175.39 L434.77,175.09 L438.82,174.80 L442.86,174.53 L446.91,174.26 L450.95,174.01 L455.00,173.76 L459.04,173.52 L463.09,173.29 L467.13,173.07 L471.18,172.85 L475.22,172.64 L479.27,172.44 L483.31,172.24 L487.36,172.05 L491.40,171.86 L495.45,171.67 L499.49,171.50 L503.54,171.32 L507.58,171.15 L511.63,170.99 L515.67,170.82 L519.72,170.67 L523.76,170.51 L527.81,170.37 L531.85,170.22 L535.90,170.08 L539.94,169.94 L543.99,169.81 L548.03,169.68 L552.08,169.55 L556.12,169.43 L560.17,169.31 L564.21,169.19 L568.26,169.08 L572.30,168.97 L576.35,168.87 L580.39,168.76 L584.44,168.66 L588.48,168.57 L592.53,168.48 L596.57,168.39 L600.62,168.30 L604.66,168.22 L608.71,168.14 L612.75,168.06 L616.80,167.98 L620.84,167.91 L624.89,167.84 L628.93,167.78 L632.98,167.72 L637.02,167.66 L641.07,167.60 L645.11,167.55 L649.16,167.49 L653.20,167.44 L657.25,167.40 L661.29,167.36 L665.34,167.31 L669.38,167.28 L673.43,167.24 L677.47,167.21 L681.52,167.18 L685.56,167.15 L689.61,167.12 L693.65,167.10 L697.70,167.08 L701.74,167.06 L705.79,167.05 L709.83,167.03 L713.88,167.02 L717.92,167.01 L721.97,167.01 L726.01,167.00 L730.06,167.00 L734.10,167.00 L734.10,167.00 L734.05,168.12 L734.00,169.18 L733.95,170.20 L733.90,171.16 L733.85,172.08 L733.80,172.95 L733.75,173.78 L733.70,174.58 L733.65,175.33 L733.60,176.05 L733.55,176.74 L733.50,177.40 L733.45,178.03 L733.40,178.63 L733.35,179.20 L733.30,179.75 L733.25,180.28 L733.20,180.78 L733.15,181.26 L733.10,181.72 L733.05,182.17 L733.00,182.59 L732.95,183.00 L732.90,183.40 L732.85,183.78 L732.80,184.14 L732.75,184.49 L732.70,184.83 L732.65,185.15 L732.60,185.47 L732.55,185.77 L732.50,186.07 L732.45,186.35 L732.40,186.63 L732.35,186.89 L732.30,187.15 L732.25,187.40 L732.20,187.64 L732.15,187.88 L732.10,188.11 L732.00,188.55 L731.80,189.37 L731.60,190.12 L731.40,190.81 L731.20,191.45 L730.99,192.05 L730.79,192.62 L730.59,193.17 L730.39,193.69 L730.19,194.19 L729.99,194.68 L729.79,195.15 L729.59,195.62 L729.39,196.07 L729.18,196.51 L728.98,196.95 L728.78,197.38 L728.58,197.80 L728.38,198.21 L728.18,198.62 L727.98,199.03 L727.78,199.43 L727.58,199.82 L727.37,200.22 L727.17,200.60 L726.97,200.98 L726.77,201.36 L726.57,201.73 L726.37,202.10 L726.17,202.47 L725.97,202.83 L725.77,203.19 L725.56,203.54 L725.36,203.89 L725.16,204.24 L724.96,204.58 L724.76,204.92 L724.56,205.25 L724.36,205.58 L724.16,205.91 L723.96,206.24 L723.75,206.56 L723.55,206.88 L723.35,207.19 L723.15,207.51 L722.95,207.81 L722.75,208.12 L722.55,208.42 L722.35,208.72 L722.14,209.02 L721.94,209.31 L721.74,209.60 L721.54,209.89 L721.34,210.17 L721.14,210.46 L720.94,210.73 L720.74,211.01 L720.54,211.28 L720.33,211.55 L720.13,211.82 L719.93,212.09 L719.73,212.35 L719.53,212.61 L719.33,212.86 L719.13,213.12 L718.93,213.37 L718.73,213.62 L718.52,213.87 L718.32,214.11 L718.12,214.35 L717.92,214.59 L717.72,214.83 L717.52,215.06 L717.32,215.30 L717.12,215.53 L716.92,215.75 L716.71,215.98 L716.51,216.20 L716.31,216.42 L716.11,216.64 L715.91,216.86 L715.71,217.07 L715.51,217.29 L715.31,217.50 L715.11,217.70 L714.90,217.91 L714.70,218.11 L714.50,218.32 L714.30,218.52 L714.10,218.72 L713.60,219.20 L712.93,219.83 L712.26,220.44 L711.59,221.03 L710.92,221.61 L710.25,222.16 L709.58,222.70 L708.91,223.22 L708.24,223.73 L707.57,224.22 L706.91,224.69 L706.24,225.15 L705.57,225.60 L704.90,226.03 L704.23,226.45 L703.56,226.86 L702.89,227.26 L702.22,227.64 L701.55,228.02 L700.88,228.38 L700.21,228.73 L699.54,229.08 L698.87,229.41 L698.20,229.73 L697.53,230.05 L696.86,230.36 L696.19,230.65 L695.52,230.94 L694.85,231.23 L694.18,231.50 L693.52,231.77 L692.85,232.03 L692.18,232.29 L691.51,232.53 L690.84,232.78 L690.17,233.01 L689.50,233.24 L688.83,233.47 L688.16,233.69 L687.49,233.90 L686.82,234.11 L686.15,234.32 L685.48,234.52 L684.81,234.71 L684.14,234.90 L683.47,235.09 L682.80,235.27 L682.13,235.45 L681.46,235.63 L680.79,235.80 L680.13,235.96 L679.46,236.13 L678.79,236.29 L678.12,236.45 L677.45,236.60 L676.78,236.76 L676.11,236.90 L675.44,237.05 L674.77,237.19 L674.10,237.34 L673.10,237.54 L669.06,238.32 L665.01,239.03 L660.97,239.68 L656.92,240.28 L652.88,240.84 L648.83,241.37 L644.79,241.86 L640.74,242.33 L636.70,242.78 L632.65,243.20 L628.61,243.61 L624.56,244.00 L620.52,244.38 L616.47,244.75 L612.43,245.10 L608.38,245.44 L604.34,245.77 L600.29,246.09 L596.25,246.40 L592.20,246.70 L588.16,246.99 L584.11,247.27 L580.07,247.55 L576.02,247.82 L571.98,248.07 L567.93,248.33 L563.89,248.57 L559.84,248.81 L555.80,249.04 L551.75,249.26 L547.71,249.47 L543.66,249.68 L539.62,249.89 L535.57,250.08 L531.53,250.27 L527.48,250.46 L523.44,250.64 L519.39,250.81 L515.35,250.98 L511.30,251.14 L507.26,251.30 L503.21,251.45 L499.17,251.60 L495.12,251.74 L491.08,251.88 L487.03,252.01 L482.99,252.14 L478.94,252.26 L474.90,252.38 L470.85,252.50 L466.81,252.61 L462.76,252.71 L458.72,252.81 L454.67,252.91 L450.63,253.01 L446.58,253.10 L442.54,253.18 L438.49,253.27 L434.45,253.34 L430.40,253.42 L426.36,253.49 L422.31,253.56 L418.27,253.63 L414.22,253.69 L410.18,253.75 L406.13,253.81 L402.09,253.86 L398.04,253.91 L394.00,253.96 L389.95,254.00 L385.91,254.05 L381.86,254.08 L377.82,254.12 L373.77,254.16 L369.73,254.19 L365.68,254.22 L361.64,254.24 L357.59,254.27 L353.55,254.29 L349.50,254.31 L345.46,254.33 L341.41,254.34 L337.37,254.36 L333.32,254.37 L329.28,254.38 L325.23,254.39 L321.19,254.39 L317.14,254.40 L313.10,254.40" fill="none" stroke="#f0f" stroke-width="2.0" stroke-linejoin="miter" stroke-miterlimit="10"/>
<rect x="847.20" y="22.50" width="471.80" height="372.50" fill="none" stroke="#000" stroke-width="2"/>
<line x1="900.82" y1="395.00" x2="900.82" y2="392.00" stroke="#000" stroke-width="1.6"/>
<line x1="954.43" y1="395.00" x2="954.43" y2="390.00" stroke="#000" stroke-width="1.6"/>
<line x1="1008.05" y1="395.00" x2="1008.05" y2="392.00" stroke="#000" stroke-width="1.6"/>
<line x1="1061.66" y1="395.00" x2="1061.66" y2="390.00" stroke="#000" stroke-width="1.6"/>
<line x1="1115.28" y1="395.00" x2="1115.28" y2="392.00" stroke="#000" stroke-width="1.6"/>
<line x1="1168.89" y1="395.00" x2="1168.89" y2="390.00" stroke="#000" stroke-width="1.6"/>
<line x1="1222.51" y1="395.00" x2="1222.51" y2="392.00" stroke="#000" stroke-width="1.6"/>
<line x1="1276.12" y1="395.00" x2="1276.12" y2="390.00" stroke="#000" stroke-width="1.6"/>
<line x1="847.20" y1="341.80" x2="850.20" y2="341.80" stroke="#000" stroke-width="1.6"/>
<line x1="847.20" y1="232.70" x2="850.20" y2="232.70" stroke="#000" stroke-width="1.6"/>
<line x1="847.20" y1="121.15" x2="850.20" y2="121.15" stroke="#000" stroke-width="1.6"/>
<line x1="847.20" y1="288.60" x2="852.20" y2="288.60" stroke="#000" stroke-width="1.6"/>
<line x1="847.20" y1="176.80" x2="852.20" y2="176.80" stroke="#000" stroke-width="1.6"/>
<line x1="847.20" y1="65.50" x2="852.20" y2="65.50" stroke="#000" stroke-width="1.6"/>
<text x="832.15" y="401.60" font-size="17" >0</text>
<text x="832.38" y="295.20" font-size="17" >1</text>
<text x="832.23" y="183.40" font-size="17" >2</text>
<text x="832.08" y="72.10" font-size="17" >3</text>
<text x="842.95" y="414.50" font-size="17" >0</text>
<text x="941.32" y="414.50" font-size="17" >100</text>
<text x="1048.88" y="414.50" font-size="17" >200</text>
<text x="1156.14" y="414.50" font-size="17" >300</text>
<text x="1263.58" y="414.50" font-size="17" >400</text>
<text transform="translate(1042.60,437.00) scale(0.9924,1)" x="-0.30" y="0" font-size="19.5">Time (s)</text>
<text transform="translate(820.90,271.20) rotate(-90) scale(0.9856,1)" x="-0.22" y="0" font-size="20">Voltage (V)</text>
<text transform="translate(784.70,33.30) scale(1.0148,1)" x="-1.98" y="0" font-size="45">(b)</text>
<text transform="translate(899.30,43.90) scale(1.0244,1)" x="-1.28" y="0" font-size="16">10 A/g</text>
<text transform="translate(899.70,82.90) scale(0.9950,1)" x="-0.27" y="0" font-size="19.5">4 A/g</text>
<text transform="translate(1010.10,241.70) scale(1.0128,1)" x="-1.52" y="0" font-size="19">1.3 A/g</text>
<text transform="translate(1179.60,202.30) scale(1.0126,1)" x="-0.72" y="0" font-size="19">0.5 A/g</text>
<line x1="892.00" y1="41.60" x2="876.50" y2="60.50" stroke="#000" stroke-width="2"/>
<path d="M869.9,68 L875.2,52.5 L884.8,59.6 Z" fill="#000"/>
<line x1="921.40" y1="87.40" x2="905.00" y2="108.00" stroke="#000" stroke-width="2"/>
<path d="M897,117.7 L898.3,102.2 L911.6,108.3 Z" fill="#000"/>
<path d="M847.20,395.00 L866.40,65.30 L884.00,395.00" fill="none" stroke="#f0f" stroke-width="2" stroke-linejoin="round"/>
<path d="M847.20,395.00 L888.10,65.30 L929.10,395.00" fill="none" stroke="#00f" stroke-width="2" stroke-linejoin="round"/>
<path d="M847.20,395.00 L952.50,65.20 L1057.60,395.00" fill="none" stroke="#f00" stroke-width="2" stroke-linejoin="round"/>
<path d="M847.20,395.00 L1081.90,65.20 L1084.30,74.30 L1088.00,79.10 L1091.00,86.40 L1092.20,88.80 L1310.50,395.00" fill="none" stroke="#000" stroke-width="2" stroke-linejoin="round"/>
<rect x="67.60" y="488.60" width="461.30" height="364.40" fill="none" stroke="#000" stroke-width="1.8"/>
<line x1="89.60" y1="853.00" x2="89.60" y2="850.20" stroke="#000" stroke-width="1.6"/>
<line x1="111.60" y1="853.00" x2="111.60" y2="848.00" stroke="#000" stroke-width="1.6"/>
<line x1="133.60" y1="853.00" x2="133.60" y2="850.20" stroke="#000" stroke-width="1.6"/>
<line x1="155.60" y1="853.00" x2="155.60" y2="848.00" stroke="#000" stroke-width="1.6"/>
<line x1="177.60" y1="853.00" x2="177.60" y2="850.20" stroke="#000" stroke-width="1.6"/>
<line x1="199.60" y1="853.00" x2="199.60" y2="848.00" stroke="#000" stroke-width="1.6"/>
<line x1="221.60" y1="853.00" x2="221.60" y2="850.20" stroke="#000" stroke-width="1.6"/>
<line x1="243.60" y1="853.00" x2="243.60" y2="848.00" stroke="#000" stroke-width="1.6"/>
<line x1="265.60" y1="853.00" x2="265.60" y2="850.20" stroke="#000" stroke-width="1.6"/>
<line x1="287.60" y1="853.00" x2="287.60" y2="848.00" stroke="#000" stroke-width="1.6"/>
<line x1="309.60" y1="853.00" x2="309.60" y2="850.20" stroke="#000" stroke-width="1.6"/>
<line x1="331.60" y1="853.00" x2="331.60" y2="848.00" stroke="#000" stroke-width="1.6"/>
<line x1="353.60" y1="853.00" x2="353.60" y2="850.20" stroke="#000" stroke-width="1.6"/>
<line x1="375.60" y1="853.00" x2="375.60" y2="848.00" stroke="#000" stroke-width="1.6"/>
<line x1="397.60" y1="853.00" x2="397.60" y2="850.20" stroke="#000" stroke-width="1.6"/>
<line x1="419.60" y1="853.00" x2="419.60" y2="848.00" stroke="#000" stroke-width="1.6"/>
<line x1="441.60" y1="853.00" x2="441.60" y2="850.20" stroke="#000" stroke-width="1.6"/>
<line x1="463.60" y1="853.00" x2="463.60" y2="848.00" stroke="#000" stroke-width="1.6"/>
<line x1="485.60" y1="853.00" x2="485.60" y2="850.20" stroke="#000" stroke-width="1.6"/>
<line x1="507.60" y1="853.00" x2="507.60" y2="848.00" stroke="#000" stroke-width="1.6"/>
<line x1="67.60" y1="816.55" x2="70.40" y2="816.55" stroke="#000" stroke-width="1.6"/>
<line x1="67.60" y1="780.10" x2="72.60" y2="780.10" stroke="#000" stroke-width="1.6"/>
<line x1="67.60" y1="743.65" x2="70.40" y2="743.65" stroke="#000" stroke-width="1.6"/>
<line x1="67.60" y1="707.20" x2="72.60" y2="707.20" stroke="#000" stroke-width="1.6"/>
<line x1="67.60" y1="670.75" x2="70.40" y2="670.75" stroke="#000" stroke-width="1.6"/>
<line x1="67.60" y1="634.30" x2="72.60" y2="634.30" stroke="#000" stroke-width="1.6"/>
<line x1="67.60" y1="597.85" x2="70.40" y2="597.85" stroke="#000" stroke-width="1.6"/>
<line x1="67.60" y1="561.40" x2="72.60" y2="561.40" stroke="#000" stroke-width="1.6"/>
<line x1="67.60" y1="524.95" x2="70.40" y2="524.95" stroke="#000" stroke-width="1.6"/>
<text x="53.22" y="859.50" font-size="19" >0</text>
<text x="43.72" y="786.60" font-size="19" >50</text>
<text x="34.22" y="713.70" font-size="19" >100</text>
<text x="34.22" y="640.80" font-size="19" >150</text>
<text x="34.22" y="567.90" font-size="19" >200</text>
<text x="63.60" y="871.60" font-size="16" >0</text>
<text x="107.37" y="871.60" font-size="16" >1</text>
<text x="151.61" y="871.60" font-size="16" >2</text>
<text x="195.57" y="871.60" font-size="16" >3</text>
<text x="239.64" y="871.60" font-size="16" >4</text>
<text x="283.57" y="871.60" font-size="16" >5</text>
<text x="327.56" y="871.60" font-size="16" >6</text>
<text x="371.34" y="871.60" font-size="16" >7</text>
<text x="415.60" y="871.60" font-size="16" >8</text>
<text x="459.67" y="871.60" font-size="16" >9</text>
<text x="499.26" y="871.60" font-size="16" >10</text>
<text transform="translate(214.30,899.50) scale(0.9957,1)" x="-0.94" y="0" font-size="19.2">Current desity(A g<tspan font-size="11.14" dy="-10.75">-1</tspan><tspan font-size="19.2" dy="10.75">)</tspan></text>
<text transform="translate(22.80,772.00) rotate(-90) scale(0.9968,1)" x="-1.03" y="0" font-size="19.4">Specific capacitance(F g<tspan font-size="11.25" dy="-10.86">-1</tspan><tspan font-size="19.4" dy="10.86">)</tspan></text>
<text transform="translate(2.20,497.10) scale(1.0459,1)" x="-1.98" y="0" font-size="45">(c)</text>
<path d="M114.24,535.52 L152.96,626.64 M161.80,635.00 L237.40,661.30 M249.80,663.97 L325.40,670.24 M337.80,671.78 L413.40,684.30 M425.80,686.36 L501.40,698.88" fill="none" stroke="#000" stroke-width="1.6"/>
<rect x="107.00" y="524.72" width="9.2" height="9.2" fill="#000"/>
<rect x="151.00" y="628.24" width="9.2" height="9.2" fill="#000"/>
<rect x="239.00" y="658.86" width="9.2" height="9.2" fill="#000"/>
<rect x="327.00" y="666.15" width="9.2" height="9.2" fill="#000"/>
<rect x="415.00" y="680.73" width="9.2" height="9.2" fill="#000"/>
<rect x="503.00" y="695.31" width="9.2" height="9.2" fill="#000"/>
<rect x="619.20" y="488.60" width="459.10" height="362.60" fill="none" stroke="#000" stroke-width="1.8"/>
<line x1="665.65" y1="851.20" x2="665.65" y2="848.40" stroke="#000" stroke-width="1.6"/>
<line x1="712.10" y1="851.20" x2="712.10" y2="846.20" stroke="#000" stroke-width="1.6"/>
<line x1="758.55" y1="851.20" x2="758.55" y2="848.40" stroke="#000" stroke-width="1.6"/>
<line x1="805.00" y1="851.20" x2="805.00" y2="846.20" stroke="#000" stroke-width="1.6"/>
<line x1="851.45" y1="851.20" x2="851.45" y2="848.40" stroke="#000" stroke-width="1.6"/>
<line x1="897.90" y1="851.20" x2="897.90" y2="846.20" stroke="#000" stroke-width="1.6"/>
<line x1="944.35" y1="851.20" x2="944.35" y2="848.40" stroke="#000" stroke-width="1.6"/>
<line x1="990.80" y1="851.20" x2="990.80" y2="846.20" stroke="#000" stroke-width="1.6"/>
<line x1="1037.25" y1="851.20" x2="1037.25" y2="848.40" stroke="#000" stroke-width="1.6"/>
<line x1="619.20" y1="818.15" x2="622.00" y2="818.15" stroke="#000" stroke-width="1.6"/>
<line x1="619.20" y1="785.10" x2="624.20" y2="785.10" stroke="#000" stroke-width="1.6"/>
<line x1="619.20" y1="752.05" x2="622.00" y2="752.05" stroke="#000" stroke-width="1.6"/>
<line x1="619.20" y1="719.00" x2="624.20" y2="719.00" stroke="#000" stroke-width="1.6"/>
<line x1="619.20" y1="685.95" x2="622.00" y2="685.95" stroke="#000" stroke-width="1.6"/>
<line x1="619.20" y1="652.90" x2="624.20" y2="652.90" stroke="#000" stroke-width="1.6"/>
<line x1="619.20" y1="619.85" x2="622.00" y2="619.85" stroke="#000" stroke-width="1.6"/>
<line x1="619.20" y1="586.80" x2="624.20" y2="586.80" stroke="#000" stroke-width="1.6"/>
<line x1="619.20" y1="553.75" x2="622.00" y2="553.75" stroke="#000" stroke-width="1.6"/>
<line x1="619.20" y1="520.70" x2="624.20" y2="520.70" stroke="#000" stroke-width="1.6"/>
<text x="602.95" y="857.40" font-size="18.5" >0</text>
<text x="593.70" y="791.30" font-size="18.5" >20</text>
<text x="593.70" y="725.20" font-size="18.5" >40</text>
<text x="593.70" y="659.10" font-size="18.5" >60</text>
<text x="593.70" y="593.00" font-size="18.5" >80</text>
<text x="584.45" y="526.90" font-size="18.5" >100</text>
<text x="614.58" y="871.80" font-size="18.5" >0</text>
<text x="693.56" y="871.80" font-size="18.5" >2000</text>
<text x="786.73" y="871.80" font-size="18.5" >4000</text>
<text x="879.44" y="871.80" font-size="18.5" >6000</text>
<text x="972.35" y="871.80" font-size="18.5" >8000</text>
<text x="1053.49" y="871.80" font-size="18.5" >10000</text>
<text transform="translate(785.00,896.30) scale(0.9941,1)" x="-1.06" y="0" font-size="21.7">Cycle number</text>
<text transform="translate(581.00,809.60) rotate(-90) scale(1.0014,1)" x="-1.07" y="0" font-size="22">Capacitance Retention(%)</text>
<text transform="translate(554.90,497.10) scale(1.0070,1)" x="-1.98" y="0" font-size="45">(d)</text>
<defs><clipPath id="cd"><rect x="620.1" y="489.5" width="457.3" height="361"/></clipPath></defs>
<g fill="#0000ff" clip-path="url(#cd)"><circle cx="614.0" cy="519.2" r="6.1"/><circle cx="616.0" cy="521.6" r="5.7"/><circle cx="617.9" cy="519.0" r="5.4"/><circle cx="619.9" cy="521.1" r="5.7"/><circle cx="621.9" cy="519.6" r="5.3"/><circle cx="623.8" cy="519.6" r="5.5"/><circle cx="625.8" cy="524.0" r="5.9"/><circle cx="627.8" cy="523.3" r="5.2"/><circle cx="629.7" cy="525.9" r="5.9"/><circle cx="631.7" cy="521.7" r="5.8"/><circle cx="633.7" cy="522.4" r="5.7"/><circle cx="635.6" cy="522.6" r="5.3"/><circle cx="637.6" cy="522.9" r="5.2"/><circle cx="639.6" cy="523.6" r="5.7"/><circle cx="641.5" cy="520.0" r="5.7"/><circle cx="643.5" cy="523.8" r="5.8"/><circle cx="645.5" cy="520.7" r="5.7"/><circle cx="647.4" cy="523.0" r="5.5"/><circle cx="649.4" cy="528.0" r="6.0"/><circle cx="651.4" cy="523.1" r="5.9"/><circle cx="653.3" cy="522.8" r="5.5"/><circle cx="655.3" cy="524.4" r="5.3"/><circle cx="657.3" cy="523.6" r="6.0"/><circle cx="659.2" cy="522.0" r="5.6"/><circle cx="661.2" cy="526.4" r="5.2"/><circle cx="663.2" cy="523.0" r="5.4"/><circle cx="665.1" cy="525.2" r="6.2"/><circle cx="667.1" cy="523.0" r="5.6"/><circle cx="669.1" cy="525.9" r="6.0"/><circle cx="671.0" cy="525.0" r="5.5"/><circle cx="673.0" cy="525.3" r="6.2"/><circle cx="675.0" cy="524.9" r="6.0"/><circle cx="676.9" cy="525.1" r="5.3"/><circle cx="678.9" cy="525.1" r="5.3"/><circle cx="680.9" cy="524.7" r="5.8"/><circle cx="682.8" cy="523.6" r="5.6"/><circle cx="684.8" cy="525.5" r="5.3"/><circle cx="686.8" cy="526.9" r="5.8"/><circle cx="688.7" cy="525.9" r="5.4"/><circle cx="690.7" cy="525.9" r="5.5"/><circle cx="692.7" cy="527.5" r="5.5"/><circle cx="694.6" cy="524.5" r="6.1"/><circle cx="696.6" cy="525.4" r="6.1"/><circle cx="698.6" cy="526.6" r="5.8"/><circle cx="700.5" cy="528.8" r="5.4"/><circle cx="702.5" cy="527.9" r="5.5"/><circle cx="704.5" cy="525.5" r="5.5"/><circle cx="706.4" cy="524.1" r="5.3"/><circle cx="708.4" cy="527.1" r="5.4"/><circle cx="710.4" cy="526.6" r="5.8"/><circle cx="712.3" cy="524.4" r="6.2"/><circle cx="714.3" cy="526.8" r="5.7"/><circle cx="716.3" cy="523.0" r="5.4"/><circle cx="718.2" cy="524.4" r="5.4"/><circle cx="720.2" cy="528.2" r="5.4"/><circle cx="722.2" cy="524.4" r="5.4"/><circle cx="724.1" cy="525.7" r="5.4"/><circle cx="726.1" cy="522.5" r="6.2"/><circle cx="728.1" cy="527.6" r="5.6"/><circle cx="730.0" cy="524.8" r="5.3"/><circle cx="732.0" cy="530.0" r="5.4"/><circle cx="734.0" cy="527.2" r="5.9"/><circle cx="735.9" cy="526.2" r="5.8"/><circle cx="737.9" cy="529.2" r="5.5"/><circle cx="739.9" cy="527.6" r="5.3"/><circle cx="741.8" cy="528.7" r="5.4"/><circle cx="743.8" cy="523.9" r="5.8"/><circle cx="745.8" cy="525.6" r="5.5"/><circle cx="747.7" cy="527.6" r="5.2"/><circle cx="749.7" cy="526.3" r="5.5"/><circle cx="751.7" cy="526.4" r="5.4"/><circle cx="753.6" cy="527.1" r="5.6"/><circle cx="755.6" cy="526.3" r="5.6"/><circle cx="757.6" cy="526.7" r="6.1"/><circle cx="759.5" cy="529.3" r="5.9"/><circle cx="761.5" cy="526.9" r="5.8"/><circle cx="763.5" cy="527.5" r="5.2"/><circle cx="765.4" cy="527.6" r="6.1"/><circle cx="767.4" cy="526.2" r="5.2"/><circle cx="769.4" cy="523.7" r="5.8"/><circle cx="771.3" cy="525.0" r="5.5"/><circle cx="773.3" cy="527.8" r="6.2"/><circle cx="775.3" cy="529.3" r="5.9"/><circle cx="777.2" cy="528.5" r="6.1"/><circle cx="779.2" cy="527.5" r="6.0"/><circle cx="781.2" cy="525.4" r="6.1"/><circle cx="783.1" cy="526.4" r="6.1"/><circle cx="785.1" cy="529.7" r="6.1"/><circle cx="787.1" cy="525.6" r="6.1"/><circle cx="789.0" cy="529.3" r="5.8"/><circle cx="791.0" cy="527.0" r="5.8"/><circle cx="793.0" cy="527.1" r="5.8"/><circle cx="794.9" cy="530.0" r="6.2"/><circle cx="796.9" cy="529.2" r="6.1"/><circle cx="798.9" cy="528.1" r="5.9"/><circle cx="800.8" cy="526.8" r="5.8"/><circle cx="802.8" cy="525.7" r="5.3"/><circle cx="804.8" cy="529.5" r="6.0"/><circle cx="806.7" cy="530.5" r="5.7"/><circle cx="808.7" cy="528.9" r="5.4"/><circle cx="810.7" cy="528.0" r="5.8"/><circle cx="812.6" cy="527.0" r="6.1"/><circle cx="814.6" cy="528.7" r="5.5"/><circle cx="816.6" cy="529.0" r="5.9"/><circle cx="818.5" cy="529.1" r="6.1"/><circle cx="820.5" cy="529.7" r="5.9"/><circle cx="822.5" cy="526.0" r="5.5"/><circle cx="824.4" cy="530.1" r="5.9"/><circle cx="826.4" cy="529.5" r="6.0"/><circle cx="828.4" cy="530.6" r="6.1"/><circle cx="830.3" cy="530.2" r="5.8"/><circle cx="832.3" cy="528.2" r="5.5"/><circle cx="834.3" cy="530.4" r="6.0"/><circle cx="836.2" cy="530.6" r="6.0"/><circle cx="838.2" cy="528.5" r="5.5"/><circle cx="840.2" cy="525.8" r="5.4"/><circle cx="842.1" cy="528.3" r="5.4"/><circle cx="844.1" cy="529.9" r="5.6"/><circle cx="846.1" cy="528.3" r="5.5"/><circle cx="848.0" cy="528.4" r="6.0"/><circle cx="850.0" cy="531.3" r="5.3"/><circle cx="851.9" cy="529.5" r="5.2"/><circle cx="853.9" cy="530.1" r="5.9"/><circle cx="855.9" cy="529.5" r="5.8"/><circle cx="857.8" cy="528.9" r="5.2"/><circle cx="859.8" cy="532.4" r="5.3"/><circle cx="861.8" cy="529.6" r="6.0"/><circle cx="863.7" cy="530.1" r="5.4"/><circle cx="865.7" cy="530.4" r="5.8"/><circle cx="867.7" cy="530.5" r="5.6"/><circle cx="869.6" cy="528.7" r="6.0"/><circle cx="871.6" cy="528.6" r="6.2"/><circle cx="873.6" cy="529.9" r="5.7"/><circle cx="875.5" cy="529.4" r="5.4"/><circle cx="877.5" cy="532.1" r="5.9"/><circle cx="879.5" cy="530.5" r="5.4"/><circle cx="881.4" cy="530.3" r="5.9"/><circle cx="883.4" cy="531.9" r="5.7"/><circle cx="885.4" cy="528.7" r="5.6"/><circle cx="887.3" cy="528.9" r="6.0"/><circle cx="889.3" cy="531.2" r="6.1"/><circle cx="891.3" cy="530.4" r="5.9"/><circle cx="893.2" cy="531.9" r="5.8"/><circle cx="895.2" cy="532.0" r="6.1"/><circle cx="897.2" cy="529.5" r="6.1"/><circle cx="899.1" cy="532.3" r="6.0"/><circle cx="901.1" cy="532.5" r="5.9"/><circle cx="903.1" cy="530.4" r="5.4"/><circle cx="905.0" cy="530.6" r="5.8"/><circle cx="907.0" cy="528.4" r="5.9"/><circle cx="909.0" cy="531.9" r="6.2"/><circle cx="910.9" cy="534.3" r="6.2"/><circle cx="912.9" cy="528.7" r="5.5"/><circle cx="914.9" cy="530.7" r="6.1"/><circle cx="916.8" cy="532.2" r="5.3"/><circle cx="918.8" cy="530.3" r="5.6"/><circle cx="920.8" cy="529.0" r="5.7"/><circle cx="922.7" cy="530.7" r="5.2"/><circle cx="924.7" cy="531.7" r="6.0"/><circle cx="926.7" cy="531.1" r="5.4"/><circle cx="928.6" cy="530.3" r="5.3"/><circle cx="930.6" cy="533.9" r="5.3"/><circle cx="932.6" cy="529.3" r="6.0"/><circle cx="934.5" cy="531.5" r="5.9"/><circle cx="936.5" cy="533.5" r="6.1"/><circle cx="938.5" cy="531.3" r="5.3"/><circle cx="940.4" cy="532.2" r="5.5"/><circle cx="942.4" cy="533.8" r="5.9"/><circle cx="944.4" cy="530.8" r="6.0"/><circle cx="946.3" cy="530.6" r="5.8"/><circle cx="948.3" cy="531.5" r="6.0"/><circle cx="950.3" cy="533.5" r="6.1"/><circle cx="952.2" cy="532.9" r="6.2"/><circle cx="954.2" cy="535.1" r="5.7"/><circle cx="956.2" cy="531.4" r="5.7"/><circle cx="958.1" cy="531.9" r="5.7"/><circle cx="960.1" cy="532.1" r="6.2"/><circle cx="962.1" cy="532.2" r="5.7"/><circle cx="964.0" cy="530.3" r="5.8"/><circle cx="966.0" cy="534.1" r="5.7"/><circle cx="968.0" cy="532.4" r="5.7"/><circle cx="969.9" cy="532.1" r="5.6"/><circle cx="971.9" cy="535.9" r="5.5"/><circle cx="973.9" cy="531.8" r="5.7"/><circle cx="975.8" cy="533.9" r="6.0"/><circle cx="977.8" cy="533.9" r="6.1"/><circle cx="979.8" cy="531.5" r="5.4"/><circle cx="981.7" cy="533.1" r="5.8"/><circle cx="983.7" cy="533.6" r="6.0"/><circle cx="985.7" cy="532.6" r="5.2"/><circle cx="987.6" cy="533.4" r="5.9"/><circle cx="989.6" cy="534.1" r="5.5"/><circle cx="991.6" cy="531.8" r="5.3"/><circle cx="993.5" cy="534.8" r="5.9"/><circle cx="995.5" cy="534.5" r="5.5"/><circle cx="997.5" cy="534.5" r="5.4"/><circle cx="999.4" cy="531.7" r="5.6"/><circle cx="1001.4" cy="533.0" r="5.6"/><circle cx="1003.4" cy="532.5" r="5.4"/><circle cx="1005.3" cy="533.2" r="5.8"/><circle cx="1007.3" cy="532.3" r="6.1"/><circle cx="1009.3" cy="532.1" r="5.8"/><circle cx="1011.2" cy="534.2" r="5.9"/><circle cx="1013.2" cy="532.7" r="6.0"/><circle cx="1015.2" cy="534.7" r="5.5"/><circle cx="1017.1" cy="532.9" r="6.1"/><circle cx="1019.1" cy="534.8" r="6.1"/><circle cx="1021.1" cy="539.0" r="5.3"/><circle cx="1023.0" cy="534.0" r="5.5"/><circle cx="1025.0" cy="536.3" r="5.3"/><circle cx="1027.0" cy="534.7" r="6.0"/><circle cx="1028.9" cy="532.6" r="5.3"/><circle cx="1030.9" cy="532.1" r="5.2"/><circle cx="1032.9" cy="535.3" r="5.4"/><circle cx="1034.8" cy="532.7" r="6.2"/><circle cx="1036.8" cy="531.1" r="5.3"/><circle cx="1038.8" cy="531.6" r="5.7"/><circle cx="1040.7" cy="534.1" r="5.9"/><circle cx="1042.7" cy="534.4" r="5.3"/><circle cx="1044.7" cy="534.8" r="5.2"/><circle cx="1046.6" cy="532.6" r="5.8"/><circle cx="1048.6" cy="533.8" r="5.3"/><circle cx="1050.6" cy="534.8" r="6.0"/><circle cx="1052.5" cy="535.4" r="6.2"/><circle cx="1054.5" cy="535.1" r="5.3"/><circle cx="1056.5" cy="534.2" r="6.2"/><circle cx="1058.4" cy="532.1" r="5.5"/><circle cx="1060.4" cy="535.2" r="5.7"/><circle cx="1062.4" cy="533.1" r="5.8"/><circle cx="1064.3" cy="534.6" r="5.2"/><circle cx="1066.3" cy="533.9" r="5.4"/><circle cx="1068.3" cy="532.0" r="5.7"/><circle cx="1070.2" cy="534.7" r="5.4"/><circle cx="1072.2" cy="533.3" r="5.4"/><circle cx="1074.2" cy="534.7" r="6.1"/><circle cx="1076.1" cy="534.9" r="6.0"/><circle cx="1078.1" cy="534.2" r="5.8"/><circle cx="1080.1" cy="532.2" r="5.6"/><circle cx="1082.0" cy="533.6" r="6.2"/><circle cx="1084.0" cy="534.1" r="6.0"/></g>
<rect x="1176.50" y="482.60" width="469.50" height="371.70" fill="none" stroke="#000" stroke-width="1.8"/>
<line x1="1237.97" y1="854.30" x2="1237.97" y2="851.50" stroke="#000" stroke-width="1.6"/>
<line x1="1273.93" y1="854.30" x2="1273.93" y2="851.50" stroke="#000" stroke-width="1.6"/>
<line x1="1299.44" y1="854.30" x2="1299.44" y2="851.50" stroke="#000" stroke-width="1.6"/>
<line x1="1319.23" y1="854.30" x2="1319.23" y2="851.50" stroke="#000" stroke-width="1.6"/>
<line x1="1335.40" y1="854.30" x2="1335.40" y2="851.50" stroke="#000" stroke-width="1.6"/>
<line x1="1349.07" y1="854.30" x2="1349.07" y2="851.50" stroke="#000" stroke-width="1.6"/>
<line x1="1360.91" y1="854.30" x2="1360.91" y2="851.50" stroke="#000" stroke-width="1.6"/>
<line x1="1371.36" y1="854.30" x2="1371.36" y2="851.50" stroke="#000" stroke-width="1.6"/>
<line x1="1380.70" y1="854.30" x2="1380.70" y2="849.30" stroke="#000" stroke-width="1.6"/>
<line x1="1442.17" y1="854.30" x2="1442.17" y2="851.50" stroke="#000" stroke-width="1.6"/>
<line x1="1478.13" y1="854.30" x2="1478.13" y2="851.50" stroke="#000" stroke-width="1.6"/>
<line x1="1503.64" y1="854.30" x2="1503.64" y2="851.50" stroke="#000" stroke-width="1.6"/>
<line x1="1523.43" y1="854.30" x2="1523.43" y2="851.50" stroke="#000" stroke-width="1.6"/>
<line x1="1539.60" y1="854.30" x2="1539.60" y2="851.50" stroke="#000" stroke-width="1.6"/>
<line x1="1553.27" y1="854.30" x2="1553.27" y2="851.50" stroke="#000" stroke-width="1.6"/>
<line x1="1565.11" y1="854.30" x2="1565.11" y2="851.50" stroke="#000" stroke-width="1.6"/>
<line x1="1575.56" y1="854.30" x2="1575.56" y2="851.50" stroke="#000" stroke-width="1.6"/>
<line x1="1584.90" y1="854.30" x2="1584.90" y2="849.30" stroke="#000" stroke-width="1.6"/>
<line x1="1176.50" y1="825.62" x2="1181.50" y2="825.62" stroke="#000" stroke-width="1.6"/>
<line x1="1176.50" y1="797.04" x2="1179.30" y2="797.04" stroke="#000" stroke-width="1.6"/>
<line x1="1176.50" y1="768.45" x2="1181.50" y2="768.45" stroke="#000" stroke-width="1.6"/>
<line x1="1176.50" y1="739.87" x2="1179.30" y2="739.87" stroke="#000" stroke-width="1.6"/>
<line x1="1176.50" y1="711.28" x2="1181.50" y2="711.28" stroke="#000" stroke-width="1.6"/>
<line x1="1176.50" y1="682.70" x2="1179.30" y2="682.70" stroke="#000" stroke-width="1.6"/>
<line x1="1176.50" y1="654.11" x2="1181.50" y2="654.11" stroke="#000" stroke-width="1.6"/>
<line x1="1176.50" y1="625.52" x2="1179.30" y2="625.52" stroke="#000" stroke-width="1.6"/>
<line x1="1176.50" y1="596.94" x2="1181.50" y2="596.94" stroke="#000" stroke-width="1.6"/>
<line x1="1176.50" y1="568.36" x2="1179.30" y2="568.36" stroke="#000" stroke-width="1.6"/>
<line x1="1176.50" y1="539.77" x2="1181.50" y2="539.77" stroke="#000" stroke-width="1.6"/>
<line x1="1176.50" y1="511.19" x2="1179.30" y2="511.19" stroke="#000" stroke-width="1.6"/>
<text x="1154.61" y="831.62" font-size="16" >20</text>
<text x="1154.61" y="774.45" font-size="16" >30</text>
<text x="1154.61" y="717.28" font-size="16" >40</text>
<text x="1154.61" y="660.11" font-size="16" >50</text>
<text x="1154.61" y="602.94" font-size="16" >60</text>
<text x="1154.61" y="545.77" font-size="16" >70</text>
<text x="1154.61" y="488.60" font-size="16" >80</text>
<text x="1164.96" y="872.00" font-size="16" >100</text>
<text x="1377.76" y="872.00" font-size="16" >1000</text>
<text x="1564.36" y="872.00" font-size="16" >10000</text>
<text transform="translate(1320.50,893.60) scale(0.9974,1)" x="-0.33" y="0" font-size="19.4">Power density(W kg<tspan font-size="11.25" dy="-10.86">-1</tspan><tspan font-size="19.4" dy="10.86">)</tspan></text>
<text transform="translate(1143.00,776.90) rotate(-90) scale(0.9896,1)" x="-0.34" y="0" font-size="20">Energy density(Wh kg<tspan font-size="11.60" dy="-11.20">-1</tspan><tspan font-size="20" dy="11.20">)</tspan></text>
<text transform="translate(1106.00,497.10) scale(0.9872,1)" x="-1.98" y="0" font-size="45">(e)</text>
<path d="M1345.30,530.80 L1386.90,565.40 L1415.00,616.90 L1441.00,662.90 L1483.30,697.00 L1519.60,737.00 L1556.00,788.50" fill="none" stroke="#333" stroke-width="1.2"/>
<rect x="1338.40" y="523.90" width="13.8" height="13.8" fill="#000"/>
<rect x="1380.00" y="558.50" width="13.8" height="13.8" fill="#000"/>
<rect x="1408.10" y="610.00" width="13.8" height="13.8" fill="#000"/>
<rect x="1434.10" y="656.00" width="13.8" height="13.8" fill="#000"/>
<rect x="1476.40" y="690.10" width="13.8" height="13.8" fill="#000"/>
<rect x="1512.70" y="730.10" width="13.8" height="13.8" fill="#000"/>
<rect x="1549.10" y="781.60" width="13.8" height="13.8" fill="#000"/>
</svg>
</body></html>
